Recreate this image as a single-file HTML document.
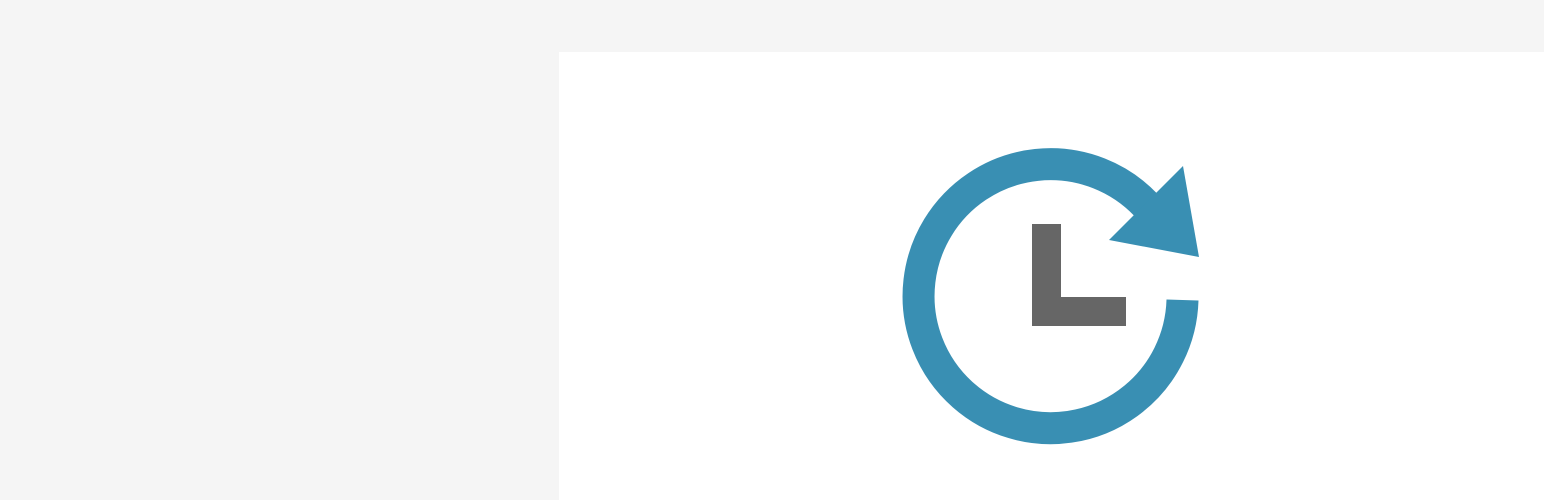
<!DOCTYPE html>
<html>
<head>
<meta charset="utf-8">
<style>
  html,body{margin:0;padding:0;width:1544px;height:500px;overflow:hidden;background:#f5f5f5;font-family:"Liberation Sans",sans-serif;}
  #panel{position:absolute;left:559px;top:52px;width:985px;height:448px;background:#ffffff;}
  svg{position:absolute;left:0;top:0;}
</style>
</head>
<body>
<div id="panel"></div>
<svg width="1544" height="500">
  <path d="M 1182.5 300 A 132 132 0 1 1 1146 205" fill="none" stroke="#398fb3" stroke-width="32"/>
  <polygon points="1183,166 1199,257 1109,240" fill="#398fb3"/>
  <rect x="1032" y="224" width="29" height="102" fill="#666666"/>
  <rect x="1032" y="297" width="94" height="29" fill="#666666"/>
</svg>
</body>
</html>
